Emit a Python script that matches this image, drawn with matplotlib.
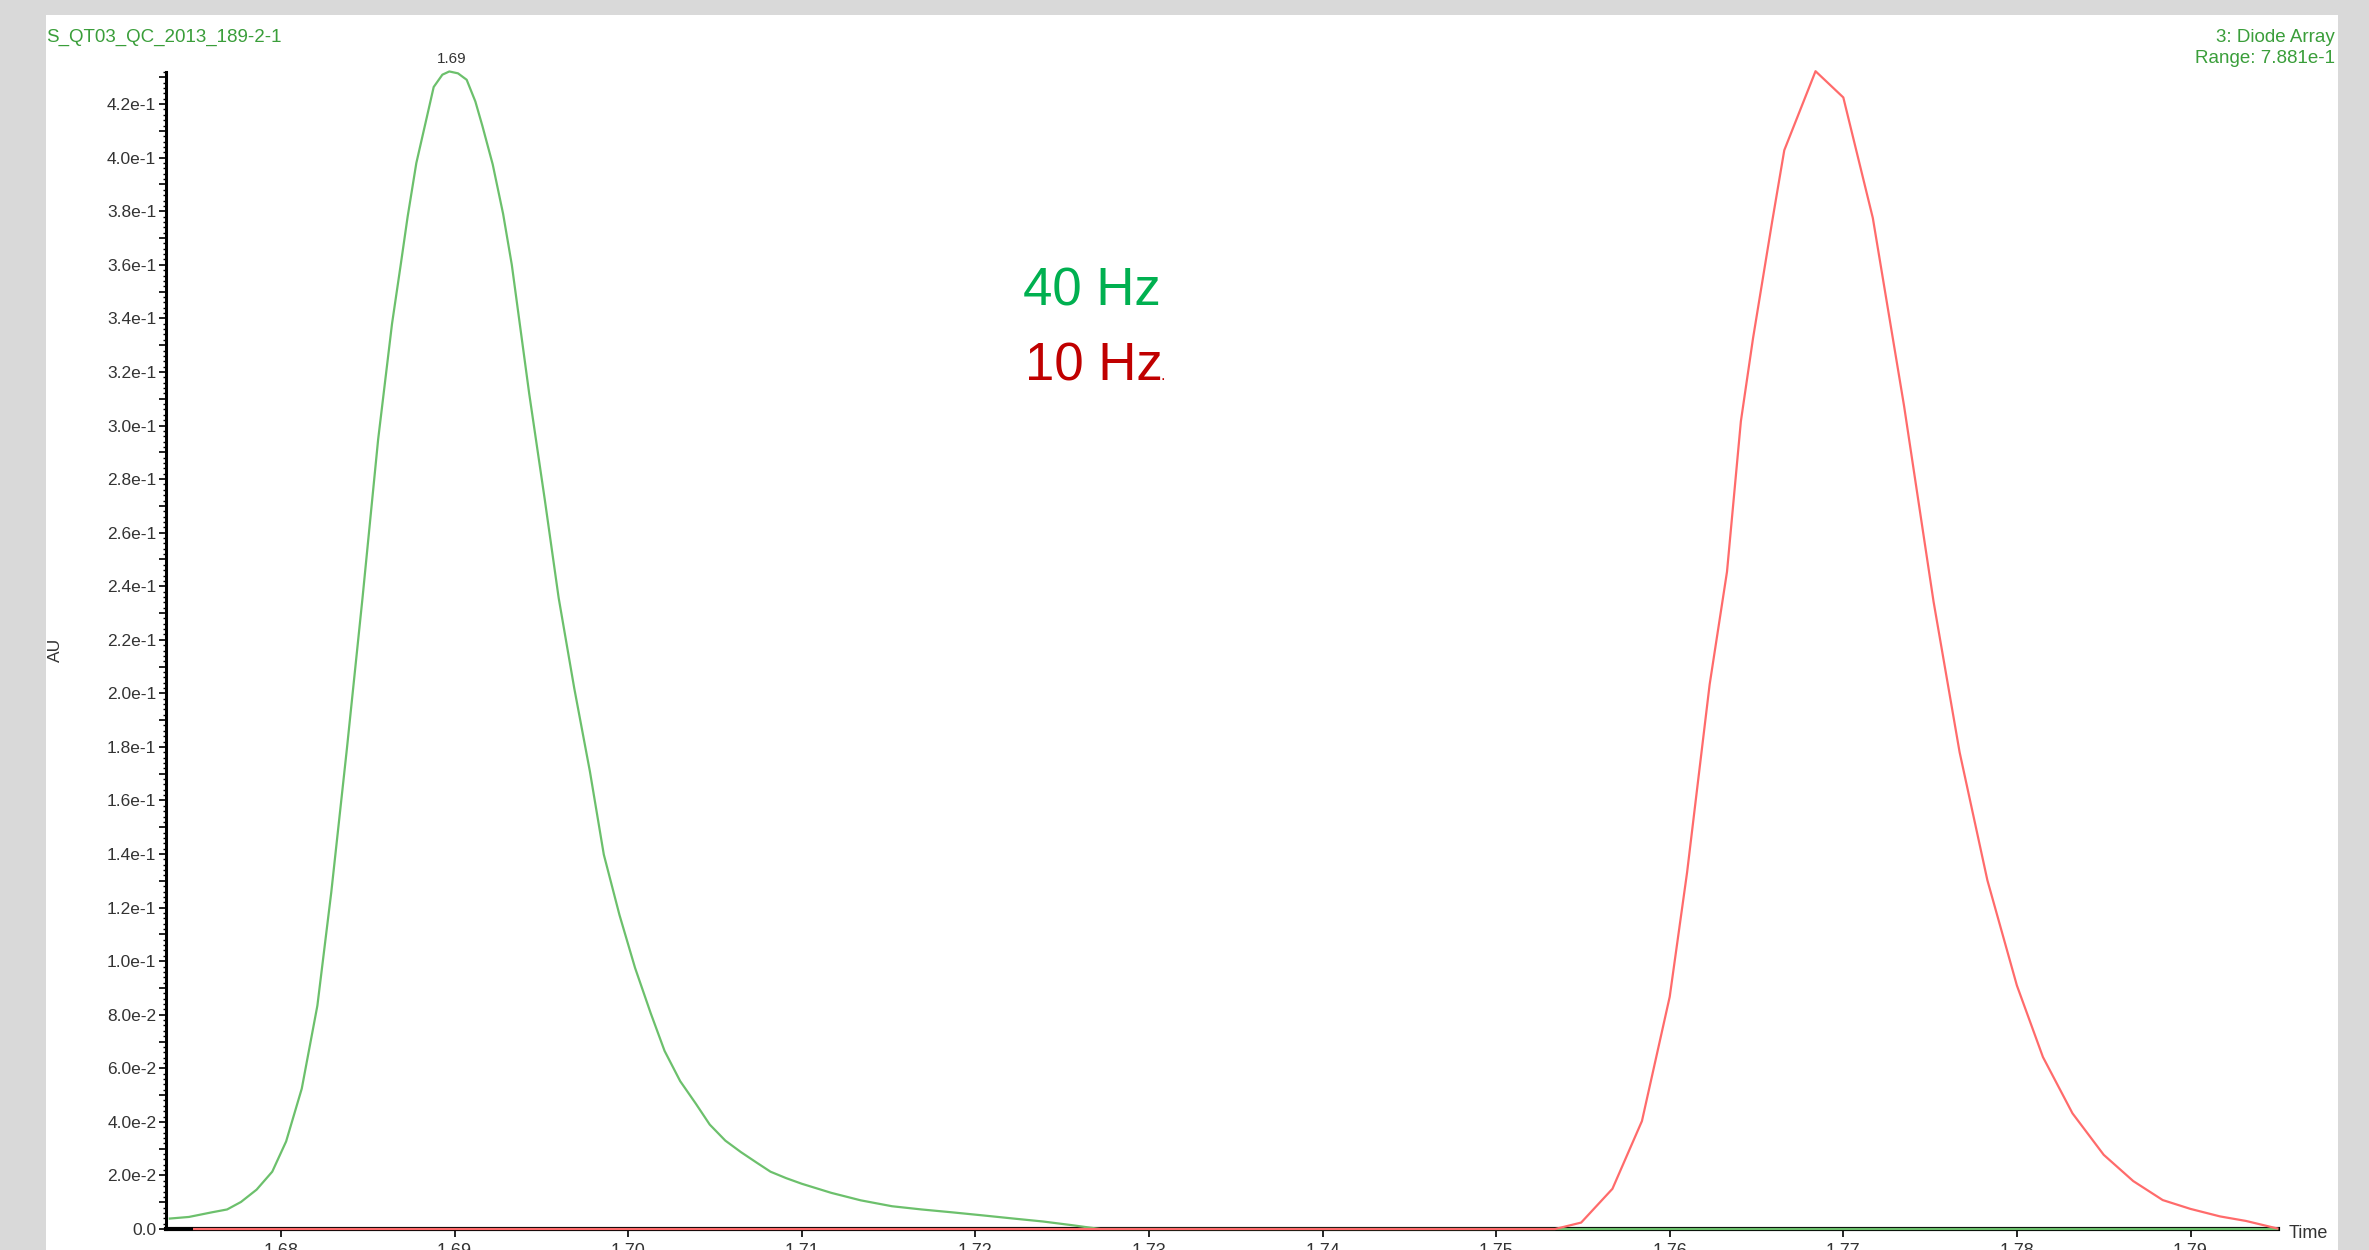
import matplotlib
matplotlib.use('Agg')
import matplotlib.pyplot as plt
import numpy as np
from matplotlib.patches import Rectangle
from matplotlib.ticker import MultipleLocator, FuncFormatter

# DATA ------------------------------------------------------------------------
# 40 Hz trace (green), time in min, absorbance in AU
time_40hz = [1.6736, 1.6747, 1.6760, 1.6769, 1.6777, 1.6786, 1.6795, 1.6803,
             1.6812, 1.6821, 1.6829, 1.6838, 1.6847, 1.6856, 1.6864, 1.6869,
             1.6873, 1.6878, 1.6884, 1.6888, 1.6893, 1.6897, 1.6902, 1.6907,
             1.6912, 1.6916, 1.6922, 1.6928, 1.6933, 1.6943,
             1.6952, 1.6960, 1.6969, 1.6978, 1.6986, 1.6995, 1.7004, 1.7013,
             1.7021, 1.7030, 1.7039, 1.7047, 1.7056, 1.7065, 1.7074, 1.7082,
             1.7091, 1.7100, 1.7117, 1.7134, 1.7152, 1.7169, 1.7187, 1.7204,
             1.7222, 1.7239, 1.7256, 1.7265, 1.7272, 1.7950]
au_40hz = [0.0039, 0.0045, 0.0062, 0.0073, 0.0101, 0.0147, 0.0214, 0.0327,
           0.0524, 0.0834, 0.1257, 0.1793, 0.2356, 0.2948, 0.3380, 0.3600,
           0.3780, 0.3980, 0.4150, 0.4264, 0.4310, 0.4322, 0.4315, 0.4291,
           0.4210, 0.4120, 0.3975, 0.3790, 0.3600, 0.3120,
           0.2723, 0.2356, 0.2018, 0.1708, 0.1398, 0.1173, 0.0975, 0.0806,
           0.0665, 0.0552, 0.0468, 0.0390, 0.0330, 0.0287, 0.0248, 0.0214,
           0.0190, 0.0169, 0.0135, 0.0107, 0.0085, 0.0073, 0.0062, 0.0051,
           0.0039, 0.0028, 0.0014, 0.0006, 0.0, 0.0]

# 10 Hz trace (red)
time_10hz = [1.6750, 1.7534, 1.7549, 1.7567, 1.7584, 1.7600, 1.7610, 1.7623,
             1.7633, 1.7641, 1.7648, 1.7659, 1.7666, 1.7684, 1.7700, 1.7717,
             1.7735, 1.7752, 1.7767, 1.7783, 1.7800, 1.7815, 1.7832, 1.7850,
             1.7867, 1.7884, 1.7900, 1.7917, 1.7932, 1.7950]
au_10hz = [0.0, 0.0, 0.0024, 0.0150, 0.0403, 0.0867, 0.1331, 0.2033,
           0.2454, 0.3016, 0.3326, 0.3761, 0.4028, 0.4323, 0.4225, 0.3775,
           0.3073, 0.2342, 0.1780, 0.1302, 0.0909, 0.0642, 0.0432, 0.0277,
           0.0179, 0.0108, 0.0075, 0.0047, 0.0030, 0.0002]

peak_label = '1.69'
x_range = (1.67338, 1.79504)
y_range = (0.0, 0.432)
# END DATA --------------------------------------------------------------------

plt.rcParams['font.family'] = ['Liberation Sans', 'DejaVu Sans']

W, H = 2369, 1250
fig = plt.figure(figsize=(W / 100, H / 100), dpi=100)
fig.patch.set_facecolor('#d9d9d9')
fig.patches.append(Rectangle((46 / W, 0), (2338 - 46) / W, 1 - 15 / H,
                             transform=fig.transFigure, facecolor='white',
                             edgecolor='none', zorder=-10))

def fx(px):
    return px / W

def fy(py):
    return 1 - py / H

ax = fig.add_axes([fx(166), fy(1229), (2278 - 166) / W, (1229 - 72) / H])
ax.set_facecolor('none')
ax.set_xlim(*x_range)
ax.set_ylim(*y_range)

for side in ['top', 'right']:
    ax.spines[side].set_visible(False)
ax.spines['left'].set_linewidth(2.2)
ax.spines['bottom'].set_linewidth(3.0)

ax.plot(time_40hz, au_40hz, color='#6cc06c', lw=1.6, zorder=3, clip_on=False)
ax.plot(time_10hz, au_10hz, color='#ff6b6b', lw=1.6, zorder=4, clip_on=False)

ipk = int(np.argmax(au_40hz))
ax.annotate(peak_label, xy=(time_40hz[ipk], au_40hz[ipk]), xytext=(2, 4),
            textcoords='offset points', ha='center', va='bottom',
            fontsize=11, color='#333333', annotation_clip=False)

# y ticks: every 0.01, labels on every 0.02, fine minor every 0.002
def ylab(v, pos):
    k = int(round(v * 100))
    if k % 2:
        return ''
    if k == 0:
        return '0.0'
    if v >= 0.1 - 1e-9:
        return '%.1fe-1' % (v * 10)
    return '%.1fe-2' % (v * 100)

ax.yaxis.set_major_locator(MultipleLocator(0.01))
ax.yaxis.set_minor_locator(MultipleLocator(0.002))
ax.yaxis.set_major_formatter(FuncFormatter(ylab))
ax.tick_params(axis='y', which='major', length=5, width=1.2, pad=2,
               labelsize=12.5, labelcolor='#333333')
ax.tick_params(axis='y', which='minor', length=2.5, width=1.0)

ax.xaxis.set_major_locator(MultipleLocator(0.01))
ax.xaxis.set_major_formatter(FuncFormatter(lambda v, p: '%.2f' % v))
ax.tick_params(axis='x', which='major', length=6, width=1.2, pad=4,
               labelsize=13, labelcolor='#333333')

green_txt = '#3a9e3a'
fig.text(fx(46), fy(42), 'S_QT03_QC_2013_189-2-1', color=green_txt,
         fontsize=13.5, ha='left', va='baseline')
fig.text(fx(2335), fy(42), '3: Diode Array', color=green_txt,
         fontsize=13.5, ha='right', va='baseline')
fig.text(fx(2335), fy(63), 'Range: 7.881e-1', color=green_txt,
         fontsize=13.5, ha='right', va='baseline')

fig.text(fx(1023), fy(305), '40 Hz', color='#00b050', fontsize=38,
         ha='left', va='baseline')
fig.text(fx(1025), fy(380), '10 Hz', color='#c00000', fontsize=38,
         ha='left', va='baseline')
fig.text(fx(1160), fy(380), '.', color='#c00000', fontsize=12,
         ha='left', va='baseline')

fig.text(fx(55), fy(650), 'AU', color='#333333', fontsize=12.5,
         rotation=90, ha='center', va='center')
fig.text(fx(2289), fy(1238), 'Time', color='#333333', fontsize=13,
         ha='left', va='baseline')

fig.savefig('out.png', dpi=100, facecolor=fig.get_facecolor())
